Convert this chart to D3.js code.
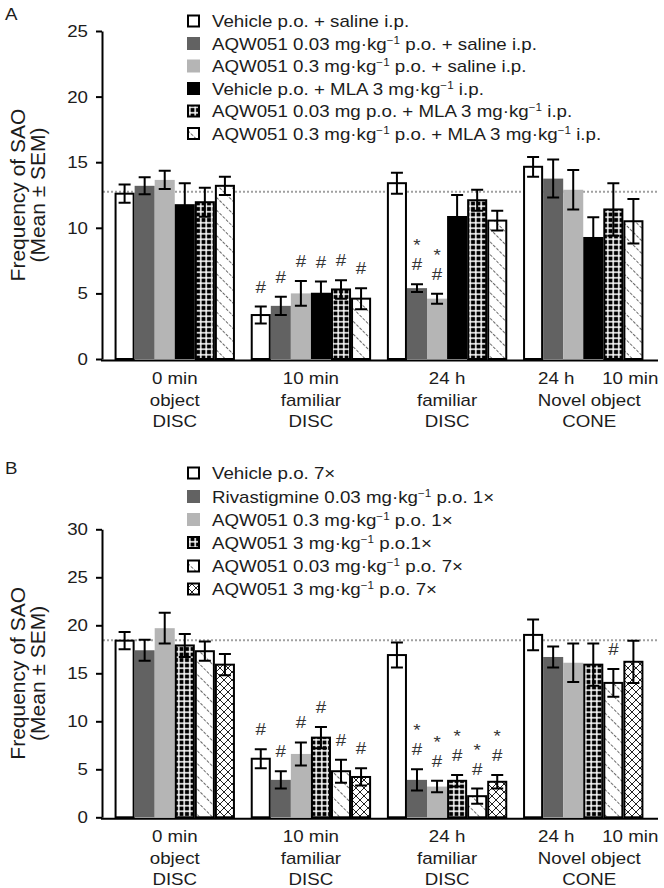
<!DOCTYPE html>
<html><head><meta charset="utf-8">
<script src="https://cdn.jsdelivr.net/npm/d3@7"></script>
<style>
body{margin:0;background:#fff}
svg{display:block}
text{font-family:"Liberation Sans",Arial,Helvetica,sans-serif;fill:#1c1c1c}
</style>
</head><body>
<svg id="chart" width="664" height="888"></svg>
<script>
// ---------- DATA ----------
const groupKeys = ["0 min DISC", "10 min DISC", "24 h DISC", "CONE"];
const groupLabelLines = [
  ["0 min", "object", "DISC"],
  ["10 min", "familiar", "DISC"],
  ["24 h", "familiar", "DISC"],
  ["", "Novel object", "CONE"]
];
const coneSubLabels = ["24 h", "10 min"];

// Panel A
const seriesA = [
  "Vehicle p.o. + saline i.p.",
  "AQW051 0.03 mg·kg⁻¹ p.o. + saline i.p.",
  "AQW051 0.3 mg·kg⁻¹ p.o. + saline i.p.",
  "Vehicle p.o. + MLA 3 mg·kg⁻¹ i.p.",
  "AQW051 0.03 mg p.o. + MLA 3 mg·kg⁻¹ i.p.",
  "AQW051 0.3 mg·kg⁻¹ p.o. + MLA 3 mg·kg⁻¹ i.p."
];
const meansA = [
  [12.6, 3.35, 13.4, 14.65],
  [13.2, 4.05, 5.4, 13.75],
  [13.65, 5.0, 4.6, 12.9],
  [11.8, 5.05, 10.9, 9.3],
  [11.95, 5.3, 12.1, 11.4],
  [13.2, 4.6, 10.55, 10.5]
];
const semA = [
  [0.7, 0.65, 0.8, 0.75],
  [0.65, 0.7, 0.3, 1.45],
  [0.7, 0.95, 0.38, 1.5],
  [1.6, 0.85, 1.6, 1.5],
  [1.1, 0.7, 0.8, 2.0],
  [0.7, 0.8, 0.75, 1.7]
];
const sigA = [
  ["", "#", "", ""],
  ["", "#", "*#", ""],
  ["", "#", "*#", ""],
  ["", "#", "", ""],
  ["", "#", "", ""],
  ["", "#", "", ""]
];
const fillsA = ["white", "dark", "light", "black", "check", "diag"];
const ticksA = [0, 5, 10, 15, 20, 25];
const refA = 12.75;

// Panel B
const seriesB = [
  "Vehicle p.o. 7×",
  "Rivastigmine 0.03 mg·kg⁻¹ p.o. 1×",
  "AQW051 0.3 mg·kg⁻¹ p.o. 1×",
  "AQW051 3 mg·kg⁻¹ p.o.1×",
  "AQW051 0.03 mg·kg⁻¹ p.o. 7×",
  "AQW051 3 mg·kg⁻¹ p.o. 7×"
];
const meansB = [
  [18.4, 6.1, 16.9, 19.0],
  [17.4, 3.9, 3.9, 16.7],
  [19.7, 6.6, 3.2, 16.1],
  [17.9, 8.3, 3.8, 15.9],
  [17.3, 4.8, 2.2, 14.0],
  [15.9, 4.2, 3.7, 16.2]
];
const semB = [
  [0.9, 1.0, 1.3, 1.6],
  [1.1, 0.9, 1.1, 1.1],
  [1.6, 1.2, 0.6, 2.0],
  [1.2, 1.1, 0.6, 2.2],
  [1.0, 1.2, 0.8, 1.45],
  [1.1, 0.9, 0.7, 2.2]
];
const sigB = [
  ["", "#", "", ""],
  ["", "#", "*#", ""],
  ["", "#", "*#", ""],
  ["", "#", "*#", ""],
  ["", "#", "*#", "#"],
  ["", "#", "*#", ""]
];
const fillsB = ["white", "dark", "light", "check", "diag", "cross"];
const ticksB = [0, 5, 10, 15, 20, 25, 30];
const refB = 18.45;

// ---------- DRAWING ----------
const svg = d3.select("#chart");
const SX = 1.17, FS = 16;
const defs = svg.append("defs");

// patterns
const pc = defs.append("pattern").attr("id", "p-check").attr("patternUnits", "userSpaceOnUse")
  .attr("width", 5.5).attr("height", 5.5);
pc.append("rect").attr("width", 5.5).attr("height", 5.5).attr("fill", "#000");
pc.append("rect").attr("x", 2).attr("y", 0).attr("width", 1.5).attr("height", 5.5).attr("fill", "#fff");
pc.append("rect").attr("x", 0).attr("y", 2).attr("width", 5.5).attr("height", 1.5).attr("fill", "#fff");

const pd = defs.append("pattern").attr("id", "p-diag").attr("patternUnits", "userSpaceOnUse")
  .attr("width", 9).attr("height", 9).attr("patternTransform", "rotate(45)");
pd.append("rect").attr("width", 9).attr("height", 9).attr("fill", "#fff");
pd.append("line").attr("x1", 0).attr("y1", 4.5).attr("x2", 9).attr("y2", 4.5)
  .attr("stroke", "#666").attr("stroke-width", 1.2).attr("stroke-dasharray", "3,1.5");

const px = defs.append("pattern").attr("id", "p-cross").attr("patternUnits", "userSpaceOnUse")
  .attr("width", 8).attr("height", 8);
px.append("rect").attr("width", 8).attr("height", 8).attr("fill", "#fff");
px.append("path").attr("d", "M0,0L8,8M8,0L0,8M-1,7L1,9M7,-1L9,1").attr("stroke", "#222").attr("stroke-width", 1).attr("fill", "none");

const fillMap = {white: "#fff", dark: "#626262", light: "#b5b5b5", black: "#000",
  check: "url(#p-check)", diag: "url(#p-diag)", cross: "url(#p-cross)"};
const outlined = {white: true, check: true, diag: true, cross: true, dark: false, light: false, black: false};

function sText(g, x, y, s, anchor, size) {
  return g.append("text")
    .attr("transform", `translate(${x},${y}) scale(${SX},1)`)
    .attr("text-anchor", anchor || "start")
    .attr("font-size", size || FS)
    .text(s);
}
function richText(g, x, y, s) {
  const t = g.append("text")
    .attr("transform", `translate(${x},${y}) scale(${SX},1)`)
    .attr("font-size", FS);
  const parts = s.split("⁻¹");
  parts.forEach((p, i) => {
    const ts = t.append("tspan").text(p);
    if (i > 0) ts.attr("dy", 6);
    if (i < parts.length - 1) {
      t.append("tspan").attr("font-size", 10).attr("dy", -6).text("−1");
    }
  });
  return t;
}

function drawPanel(cfg) {
  const g = svg.append("g");
  const y = d3.scaleLinear().domain([0, cfg.ymax]).range([cfg.y0, cfg.yTop]);
  const x = d3.scaleBand().domain(groupKeys).range([100, 658]).paddingInner(0.116).paddingOuter(0.107);
  const xs = d3.scaleBand().domain(d3.range(cfg.names.length)).range([0, x.bandwidth()]);

  // reference dotted line
  g.append("line").attr("x1", 103).attr("x2", 658)
    .attr("y1", y(cfg.ref)).attr("y2", y(cfg.ref))
    .attr("stroke", "#a0a0a0").attr("stroke-width", 2).attr("stroke-dasharray", "2,2");

  // bars
  cfg.names.forEach((name, si) => {
    const f = cfg.fills[si];
    groupKeys.forEach((gk, gi) => {
      const m = cfg.means[si][gi];
      const bx = x(gk) + xs(si);
      const bw = xs.bandwidth();
      g.append("rect")
        .attr("x", outlined[f] ? bx + 1 : bx)
        .attr("y", y(m))
        .attr("width", outlined[f] ? bw - 2 : bw)
        .attr("height", y(0) - y(m))
        .attr("fill", fillMap[f])
        .attr("stroke", outlined[f] ? "#000" : "none")
        .attr("stroke-width", 2);
    });
  });
  // error bars + significance
  cfg.names.forEach((name, si) => {
    groupKeys.forEach((gk, gi) => {
      const m = cfg.means[si][gi], s = cfg.sems[si][gi];
      const cx = x(gk) + xs(si) + xs.bandwidth() / 2;
      const yt = y(m + s), yb = y(m - s);
      g.append("path")
        .attr("d", `M${cx},${yt}L${cx},${yb}M${cx - 6},${yt}L${cx + 6},${yt}M${cx - 6},${yb}L${cx + 6},${yb}`)
        .attr("stroke", "#000").attr("stroke-width", 2).attr("fill", "none");
      const sg = cfg.sigs[si][gi];
      if (sg.includes("#")) {
        sText(g, cx, yt - 20 + 6, "#", "middle", 16).style("fill", "#333");
      }
      if (sg.includes("*")) {
        sText(g, cx, yt - 42 + 9, "*", "middle", 16).style("fill", "#333");
      }
    });
  });

  // y axis
  const ax = g.append("g").attr("transform", "translate(102,0)")
    .call(d3.axisLeft(y).tickValues(cfg.ticks).tickSize(6).tickSizeOuter(0));
  ax.select(".domain").attr("stroke", "#000").attr("stroke-width", 2);
  ax.selectAll(".tick line").attr("stroke", "#000").attr("stroke-width", 2);
  ax.selectAll(".tick text").remove();
  cfg.ticks.forEach(t => sText(g, 88, y(t) + 6, String(t), "end", FS));

  // x axis baseline
  g.append("line").attr("x1", 101).attr("x2", 658)
    .attr("y1", y(0) + 1.5).attr("y2", y(0) + 1.5)
    .attr("stroke", "#000").attr("stroke-width", 2);

  // group labels
  groupKeys.forEach((gk, gi) => {
    const cx = x(gk) + x.bandwidth() / 2;
    groupLabelLines[gi].forEach((ln, li) => {
      if (ln) sText(g, cx + (gi === 3 ? 6 : 0), y(0) + 25 + li * 21.5, ln, "middle", FS);
    });
    if (gi === 3) {
      sText(g, cx - 27, y(0) + 25, coneSubLabels[0], "middle", FS);
      sText(g, cx + 47, y(0) + 25, coneSubLabels[1], "middle", FS);
    }
  });

  // y title
  const tc = (cfg.y0 + cfg.yTop) / 2;
  g.append("text").attr("transform", `translate(25,${tc}) rotate(-90)`)
    .attr("text-anchor", "middle").attr("font-size", 21).text("Frequency of SAO");
  g.append("text").attr("transform", `translate(45,${tc}) rotate(-90)`)
    .attr("text-anchor", "middle").attr("font-size", 21).text("(Mean ± SEM)");

  // panel letter
  sText(g, 5, cfg.letterY, cfg.letter, "start", FS);

  // legend
  cfg.names.forEach((name, si) => {
    const cy = cfg.legendY[si];
    const f = cfg.fills[si];
    g.append("rect").attr("x", outlined[f] ? 188 : 187).attr("y", cy - (outlined[f] ? 5.5 : 6.5))
      .attr("width", outlined[f] ? 11 : 13).attr("height", outlined[f] ? 11 : 13)
      .attr("fill", fillMap[f])
      .attr("stroke", outlined[f] ? "#000" : "none").attr("stroke-width", 2);
    richText(g, 212, cy + 6, name);
  });
}

drawPanel({
  ymax: 25, y0: 359, yTop: 31, ticks: ticksA,
  names: seriesA, means: meansA, sems: semA, sigs: sigA, fills: fillsA, ref: refA,
  legendY: [21, 43.5, 66, 88.5, 111, 133.5], letter: "A", letterY: 20
});
drawPanel({
  ymax: 30, y0: 817.3, yTop: 529.3, ticks: ticksB,
  names: seriesB, means: meansB, sems: semB, sigs: sigB, fills: fillsB, ref: refB,
  legendY: [473, 496.5, 519.5, 542.5, 566, 589], letter: "B", letterY: 474
});
</script>
</body></html>
